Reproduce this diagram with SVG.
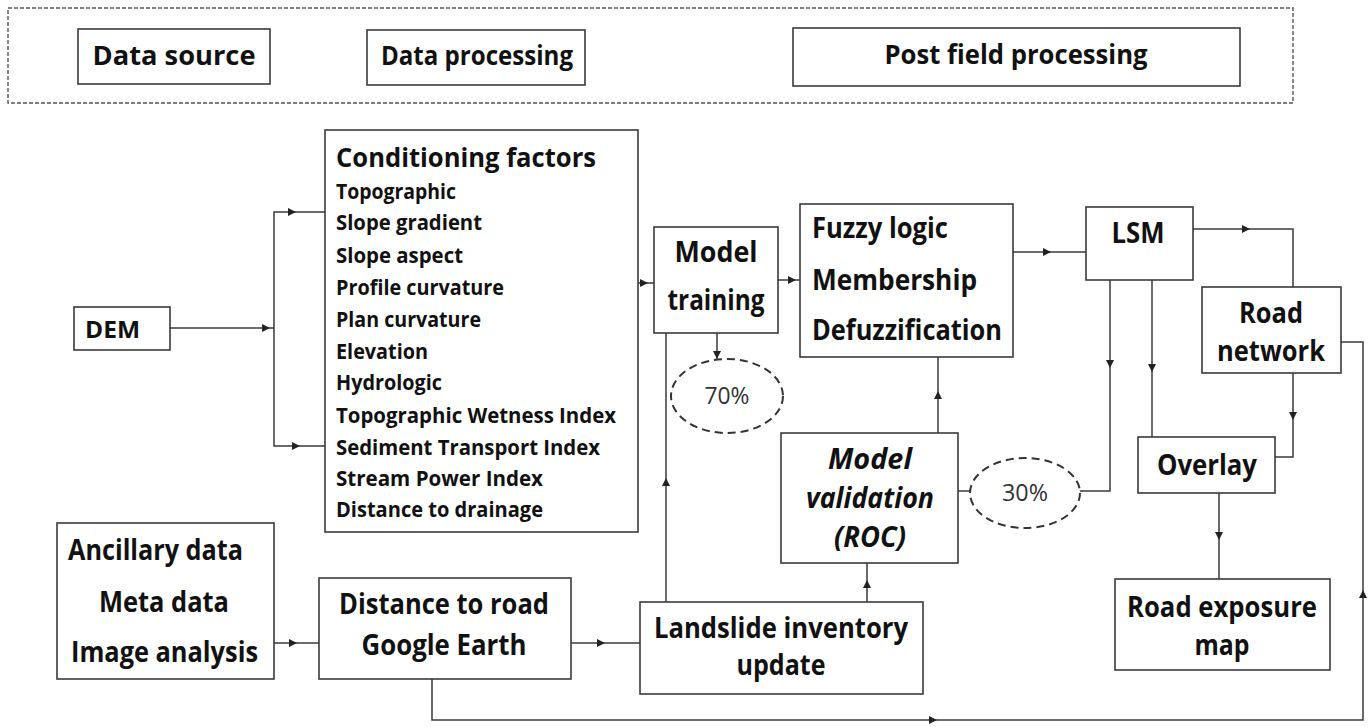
<svg xmlns="http://www.w3.org/2000/svg" xmlns:xlink="http://www.w3.org/1999/xlink" width="1369" height="727" viewBox="0 0 1369 727">
  <style>
    .box { fill: #ffffff; stroke: #3a3a3a; stroke-width: 1.6; }
    .frame { fill: none; stroke: #555555; stroke-width: 1.4; stroke-dasharray: 4 2; }
    .split { fill: #ffffff; stroke: #333333; stroke-width: 2; stroke-dasharray: 8 5; }
    .wire { fill: none; stroke: #3a3a3a; stroke-width: 1.5; }
    .head { fill: #222222; }
    text { font-family: "Open Sans", "Liberation Sans", sans-serif; fill: #111111; }
    .b { font-weight: bold; }
    .bi { font-weight: bold; font-style: italic; }
    .pct { font-weight: normal; fill: #333333; }
  </style>
  <defs>
    <!-- small filled arrowhead, tip at origin, pointing right -->
    <path id="ah" d="M0,0 L-8,-4 L-8,4 Z"/>
  </defs>

  <rect width="1369" height="727" fill="#ffffff"/>

  <!-- legend strip -->
  <g id="legend">
    <rect class="frame" x="8" y="8" width="1285" height="95"/>
    <g id="legend-source">
      <rect class="box" x="78" y="29" width="192" height="55"/>
      <text class="b" x="174" y="65" font-size="26" text-anchor="middle" textLength="163" lengthAdjust="spacingAndGlyphs">Data source</text>
    </g>
    <g id="legend-processing">
      <rect class="box" x="367" y="30" width="218" height="55"/>
      <text class="b" x="477" y="65" font-size="26" text-anchor="middle" textLength="192" lengthAdjust="spacingAndGlyphs">Data processing</text>
    </g>
    <g id="legend-post">
      <rect class="box" x="793" y="28" width="447" height="58"/>
      <text class="b" x="1016" y="64" font-size="26" text-anchor="middle" textLength="263" lengthAdjust="spacingAndGlyphs">Post field processing</text>
    </g>
  </g>

  <!-- connectors -->
  <g id="connectors">
    <path class="wire" d="M170,328 L274,328"/>
    <path class="wire" d="M325,212 L274,212 L274,446 L325,446"/>
    <path class="wire" d="M638,283 L654,283"/>
    <path class="wire" d="M778,280 L800,280"/>
    <path class="wire" d="M717,333 L717,359"/>
    <path class="wire" d="M666,602 L666,333"/>
    <path class="wire" d="M867,602 L867,563"/>
    <path class="wire" d="M938,433 L938,357"/>
    <path class="wire" d="M958,491 L970,491"/>
    <path class="wire" d="M1080,491 L1110,491 L1110,280"/>
    <path class="wire" d="M1013,252 L1086,252"/>
    <path class="wire" d="M1193,229 L1293,229 L1293,287"/>
    <path class="wire" d="M1152,280 L1152,437"/>
    <path class="wire" d="M1293,373 L1293,457 L1275,457"/>
    <path class="wire" d="M1219,493 L1219,579"/>
    <path class="wire" d="M1341,342 L1363,342 L1363,720 L432,720 L432,679"/>
    <path class="wire" d="M274,643 L319,643"/>
    <path class="wire" d="M571,643 L640,643"/>

    <use xlink:href="#ah" class="head" transform="translate(270,328)"/>
    <use xlink:href="#ah" class="head" transform="translate(296,212)"/>
    <use xlink:href="#ah" class="head" transform="translate(300,446)"/>
    <use xlink:href="#ah" class="head" transform="translate(648,283)"/>
    <use xlink:href="#ah" class="head" transform="translate(796,280)"/>
    <use xlink:href="#ah" class="head" transform="translate(717,359) rotate(90)"/>
    <use xlink:href="#ah" class="head" transform="translate(666,478) rotate(-90)"/>
    <use xlink:href="#ah" class="head" transform="translate(867,580) rotate(-90)"/>
    <use xlink:href="#ah" class="head" transform="translate(938,391) rotate(-90)"/>
    <use xlink:href="#ah" class="head" transform="translate(1051,252)"/>
    <use xlink:href="#ah" class="head" transform="translate(1250,229)"/>
    <use xlink:href="#ah" class="head" transform="translate(1110,368) rotate(90)"/>
    <use xlink:href="#ah" class="head" transform="translate(1152,372) rotate(90)"/>
    <use xlink:href="#ah" class="head" transform="translate(1293,420) rotate(90)"/>
    <use xlink:href="#ah" class="head" transform="translate(1219,540) rotate(90)"/>
    <use xlink:href="#ah" class="head" transform="translate(297,643)"/>
    <use xlink:href="#ah" class="head" transform="translate(605,643)"/>
    <use xlink:href="#ah" class="head" transform="translate(937,720)"/>
    <use xlink:href="#ah" class="head" transform="translate(1363,590) rotate(-90)"/>
  </g>

  <g id="dem">
    <rect class="box" x="74" y="307" width="96" height="43"/>
    <text class="b" x="85" y="338" font-size="24" textLength="55" lengthAdjust="spacingAndGlyphs">DEM</text>
  </g>

  <g id="conditioning-factors">
    <rect class="box" x="325" y="130" width="313" height="402"/>
    <text class="b" x="336" y="167" font-size="27" textLength="260" lengthAdjust="spacingAndGlyphs">Conditioning factors</text>
    <g class="b" font-size="21">
      <text x="336" y="199" textLength="120" lengthAdjust="spacingAndGlyphs">Topographic</text>
      <text x="336" y="230" textLength="146" lengthAdjust="spacingAndGlyphs">Slope gradient</text>
      <text x="336" y="263" textLength="127" lengthAdjust="spacingAndGlyphs">Slope aspect</text>
      <text x="336" y="295" textLength="168" lengthAdjust="spacingAndGlyphs">Profile curvature</text>
      <text x="336" y="327" textLength="145" lengthAdjust="spacingAndGlyphs">Plan curvature</text>
      <text x="336" y="359" textLength="92" lengthAdjust="spacingAndGlyphs">Elevation</text>
      <text x="336" y="390" textLength="106" lengthAdjust="spacingAndGlyphs">Hydrologic</text>
      <text x="336" y="423" textLength="280" lengthAdjust="spacingAndGlyphs">Topographic  Wetness Index</text>
      <text x="336" y="455" textLength="264" lengthAdjust="spacingAndGlyphs">Sediment Transport  Index</text>
      <text x="336" y="486" textLength="207" lengthAdjust="spacingAndGlyphs">Stream Power Index</text>
      <text x="336" y="517" textLength="207" lengthAdjust="spacingAndGlyphs">Distance  to drainage</text>
    </g>
  </g>

  <g id="model-training">
    <rect class="box" x="654" y="227" width="124" height="106"/>
    <text class="b" x="716" y="262" font-size="28" text-anchor="middle" textLength="83" lengthAdjust="spacingAndGlyphs">Model</text>
    <text class="b" x="716" y="310" font-size="28" text-anchor="middle" textLength="97" lengthAdjust="spacingAndGlyphs">training</text>
  </g>

  <g id="split-70">
    <ellipse class="split" cx="727" cy="396" rx="56" ry="37"/>
    <text class="pct" x="727" y="404" font-size="23" text-anchor="middle" textLength="45" lengthAdjust="spacingAndGlyphs">70%</text>
  </g>

  <g id="fuzzy-logic">
    <rect class="box" x="800" y="204" width="213" height="153"/>
    <text class="b" x="812" y="238" font-size="28" textLength="136" lengthAdjust="spacingAndGlyphs">Fuzzy logic</text>
    <text class="b" x="812" y="290" font-size="28" textLength="165" lengthAdjust="spacingAndGlyphs">Membership</text>
    <text class="b" x="812" y="340" font-size="28" textLength="190" lengthAdjust="spacingAndGlyphs">Defuzzification</text>
  </g>

  <g id="lsm">
    <rect class="box" x="1086" y="207" width="107" height="73"/>
    <text class="b" x="1138" y="243" font-size="28" text-anchor="middle" textLength="53" lengthAdjust="spacingAndGlyphs">LSM</text>
  </g>

  <g id="road-network">
    <rect class="box" x="1202" y="287" width="139" height="86"/>
    <text class="b" x="1271" y="323" font-size="28" text-anchor="middle" textLength="64" lengthAdjust="spacingAndGlyphs">Road</text>
    <text class="b" x="1271" y="361" font-size="28" text-anchor="middle" textLength="108" lengthAdjust="spacingAndGlyphs">network</text>
  </g>

  <g id="overlay">
    <rect class="box" x="1138" y="437" width="137" height="56"/>
    <text class="b" x="1207" y="475" font-size="28" text-anchor="middle" textLength="100" lengthAdjust="spacingAndGlyphs">Overlay</text>
  </g>

  <g id="road-exposure-map">
    <rect class="box" x="1115" y="579" width="215" height="91"/>
    <text class="b" x="1222" y="617" font-size="28" text-anchor="middle" textLength="190" lengthAdjust="spacingAndGlyphs">Road exposure</text>
    <text class="b" x="1222" y="655" font-size="28" text-anchor="middle" textLength="55" lengthAdjust="spacingAndGlyphs">map</text>
  </g>

  <g id="model-validation">
    <rect class="box" x="781" y="433" width="177" height="130"/>
    <text class="bi" x="870" y="469" font-size="28" text-anchor="middle" textLength="84" lengthAdjust="spacingAndGlyphs">Model</text>
    <text class="bi" x="870" y="508" font-size="28" text-anchor="middle" textLength="128" lengthAdjust="spacingAndGlyphs">validation</text>
    <text class="bi" x="870" y="547" font-size="28" text-anchor="middle" textLength="72" lengthAdjust="spacingAndGlyphs">(ROC)</text>
  </g>

  <g id="split-30">
    <ellipse class="split" cx="1025" cy="493" rx="55" ry="35"/>
    <text class="pct" x="1025" y="501" font-size="23" text-anchor="middle" textLength="46" lengthAdjust="spacingAndGlyphs">30%</text>
  </g>

  <g id="landslide-inventory">
    <rect class="box" x="640" y="602" width="283" height="92"/>
    <text class="b" x="781" y="638" font-size="28" text-anchor="middle" textLength="254" lengthAdjust="spacingAndGlyphs">Landslide inventory</text>
    <text class="b" x="781" y="675" font-size="28" text-anchor="middle" textLength="89" lengthAdjust="spacingAndGlyphs">update</text>
  </g>

  <g id="ancillary-data">
    <rect class="box" x="57" y="523" width="217" height="156"/>
    <text class="b" x="68" y="560" font-size="28" textLength="175" lengthAdjust="spacingAndGlyphs">Ancillary data</text>
    <text class="b" x="164" y="612" font-size="28" text-anchor="middle" textLength="130" lengthAdjust="spacingAndGlyphs">Meta data</text>
    <text class="b" x="71" y="662" font-size="28" textLength="187" lengthAdjust="spacingAndGlyphs">Image analysis</text>
  </g>

  <g id="distance-to-road">
    <rect class="box" x="319" y="578" width="252" height="101"/>
    <text class="b" x="444" y="614" font-size="28" text-anchor="middle" textLength="210" lengthAdjust="spacingAndGlyphs">Distance to road</text>
    <text class="b" x="444" y="655" font-size="28" text-anchor="middle" textLength="165" lengthAdjust="spacingAndGlyphs">Google Earth</text>
  </g>
</svg>
